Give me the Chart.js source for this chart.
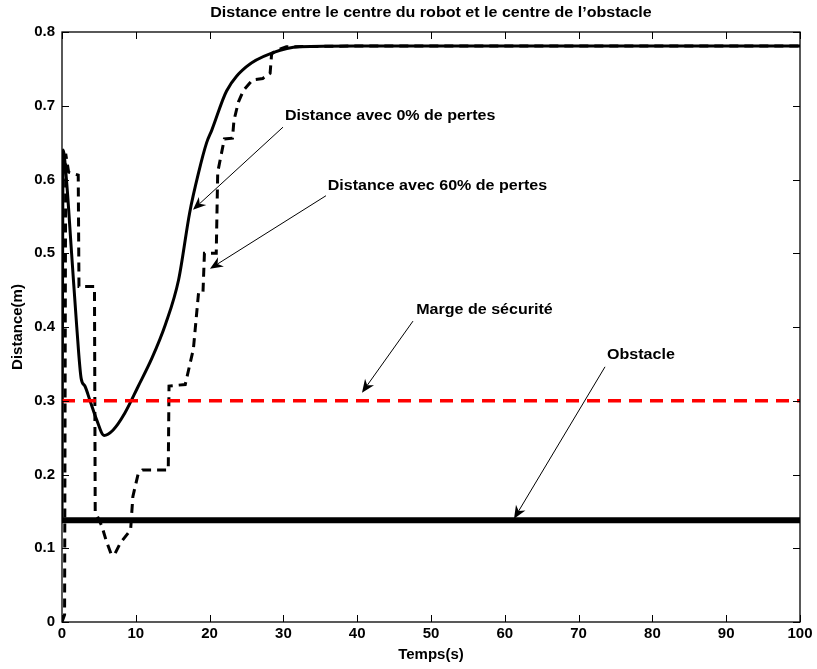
<!DOCTYPE html>
<html>
<head>
<meta charset="utf-8">
<script src="https://cdn.jsdelivr.net/npm/chart.js@4/dist/chart.umd.min.js"></script>
<style>
  html, body { margin: 0; padding: 0; background: #fff; }
  #wrap { width: 817px; height: 669px; position: relative; }
</style>
</head>
<body>
<div id="wrap"><canvas id="c" width="817" height="669"></canvas></div>
<script>
// ---- Data ----
const titleText = "Distance entre le centre du robot et le centre de l\u2019obstacle";
const xTitle = "Temps(s)";
const yTitle = "Distance(m)";

// Distance with 0% losses (solid)
const t0 = [0, 0.15, 0.6, 1.3, 2.0, 2.6, 3.1, 3.8, 4.7, 5.7, 6.9, 8.5, 10.3, 12.2, 14.0, 15.8, 17.3, 18.5, 19.6, 20.3, 22.3, 25.0, 28.6, 32.2, 40, 60, 80, 100];
const d0 = [0.14, 0.64, 0.60, 0.50, 0.40, 0.33, 0.32, 0.30, 0.274, 0.253, 0.26, 0.283, 0.319, 0.358, 0.403, 0.464, 0.555, 0.609, 0.650, 0.667, 0.72, 0.753, 0.772, 0.780, 0.781, 0.781, 0.781, 0.781];

// Distance with 60% losses (dashed)
const t60 = [0, 0.35, 0.5, 0.9, 2.2, 2.3, 4.4, 4.5, 5.4, 6.0, 6.7, 7.2, 7.9, 9.3, 9.6, 10.3, 10.9, 14.4, 14.5, 16.7, 17.8, 18.5, 19.1, 19.3, 20.9, 21.1, 22.0, 23.1, 23.3, 23.9, 24.6, 25.8, 27.2, 28.2, 28.4, 29.0, 30.4, 40, 60, 80, 100];
const d60 = [0.0, 0.01, 0.635, 0.61, 0.606, 0.455, 0.455, 0.15, 0.13, 0.11, 0.091, 0.093, 0.107, 0.125, 0.17, 0.20, 0.206, 0.206, 0.32, 0.322, 0.37, 0.446, 0.446, 0.50, 0.50, 0.61, 0.655, 0.656, 0.68, 0.705, 0.721, 0.735, 0.737, 0.744, 0.77, 0.775, 0.78, 0.781, 0.781, 0.781, 0.781];

// Safety margin and obstacle levels
const safetyX = [0, 100];
const safetyY = [0.3, 0.3];
const obstacleX = [0, 100];
const obstacleY = [0.138, 0.138];

// Axis ticks
const xTicks = [0, 10, 20, 30, 40, 50, 60, 70, 80, 90, 100];
const yTicks = [0, 0.1, 0.2, 0.3, 0.4, 0.5, 0.6, 0.7, 0.8];

// Annotations: label text, label anchor (data), arrow tail (data), arrow tip (data)
const annText = ["Distance avec 0% de pertes", "Distance avec 60% de pertes", "Marge de s\u00e9curit\u00e9", "Obstacle"];
const annLabelX = [30.2, 36.0, 48.0, 73.85];
const annLabelY = [0.686, 0.591, 0.423, 0.362];
const annTailX = [29.95, 35.77, 47.56, 73.58];
const annTailY = [0.671, 0.578, 0.408, 0.346];
const annTipX = [17.75, 20.05, 40.65, 61.25];
const annTipY = [0.559, 0.479, 0.311, 0.140];

// ---- Build ----
const pts = (xs, ys) => xs.map((x, i) => ({x: x, y: ys[i]}));
const FONT = "'Liberation Sans', Arial, Helvetica, sans-serif";
const STRETCH = 1.07;

function wideText(ctx, text, px, py, align) {
  ctx.save();
  ctx.translate(px, py);
  ctx.scale(STRETCH, 1);
  ctx.textAlign = align;
  ctx.fillText(text, 0, 0);
  ctx.restore();
}

const framePlugin = {
  id: 'frameTicks',
  afterDatasetsDraw(chart) {
    const {ctx, chartArea: a, scales: {x, y}} = chart;
    ctx.save();
    // ticks inward on all four sides
    ctx.strokeStyle = '#000';
    ctx.lineWidth = 1;
    const tl = 7;
    ctx.beginPath();
    xTicks.forEach(v => {
      const px = Math.round(x.getPixelForValue(v)) + 0.5;
      ctx.moveTo(px, a.bottom); ctx.lineTo(px, a.bottom - tl);
      ctx.moveTo(px, a.top); ctx.lineTo(px, a.top + tl);
    });
    yTicks.forEach(v => {
      const py = Math.round(y.getPixelForValue(v)) + 0.5;
      ctx.moveTo(a.left, py); ctx.lineTo(a.left + tl, py);
      ctx.moveTo(a.right, py); ctx.lineTo(a.right - tl, py);
    });
    ctx.stroke();
    // frame
    ctx.lineWidth = 1.3;
    ctx.strokeRect(a.left, a.top, a.right - a.left, a.bottom - a.top);

    ctx.fillStyle = '#000';
    ctx.font = 'bold 15px ' + FONT;
    ctx.textBaseline = 'middle';
    // title centred over the plot area
    wideText(ctx, titleText, (a.left + a.right) / 2, 13, 'center');

    // annotations
    for (let i = 0; i < annText.length; i++) {
      wideText(ctx, annText[i], x.getPixelForValue(annLabelX[i]), y.getPixelForValue(annLabelY[i]), 'left');
      const x1 = x.getPixelForValue(annTailX[i]), y1 = y.getPixelForValue(annTailY[i]);
      const x2 = x.getPixelForValue(annTipX[i]), y2 = y.getPixelForValue(annTipY[i]);
      const ang = Math.atan2(y2 - y1, x2 - x1);
      const L = 13, W = 5.5, notch = 9;
      ctx.lineWidth = 1;
      ctx.beginPath();
      ctx.moveTo(x1, y1);
      ctx.lineTo(x2 - Math.cos(ang) * notch, y2 - Math.sin(ang) * notch);
      ctx.stroke();
      const bx = x2 - Math.cos(ang) * L, by = y2 - Math.sin(ang) * L;
      const nx = -Math.sin(ang), ny = Math.cos(ang);
      ctx.beginPath();
      ctx.moveTo(x2, y2);
      ctx.lineTo(bx + nx * W, by + ny * W);
      ctx.lineTo(x2 - Math.cos(ang) * notch, y2 - Math.sin(ang) * notch);
      ctx.lineTo(bx - nx * W, by - ny * W);
      ctx.closePath();
      ctx.fill();
    }
    ctx.restore();
  }
};

new Chart(document.getElementById('c'), {
  type: 'line',
  data: {
    datasets: [
      { label: 'Obstacle', data: pts(obstacleX, obstacleY), borderColor: '#000', borderWidth: 6, pointRadius: 0, borderCapStyle: 'butt' },
      { label: 'Marge de sécurité', data: pts(safetyX, safetyY), borderColor: '#ff0000', borderWidth: 3.5, borderDash: [13, 8], pointRadius: 0, borderCapStyle: 'butt' },
      { label: 'Distance avec 60% de pertes', data: pts(t60, d60), borderColor: '#000', borderWidth: 3, borderDash: [9, 6], pointRadius: 0, tension: 0, borderCapStyle: 'butt' },
      { label: 'Distance avec 0% de pertes', data: pts(t0, d0), borderColor: '#000', borderWidth: 3, pointRadius: 0, cubicInterpolationMode: 'monotone' }
    ]
  },
  options: {
    responsive: false,
    animation: false,
    devicePixelRatio: 1,
    layout: { padding: { left: 0, right: 17, top: 32, bottom: 0 } },
    plugins: {
      legend: { display: false },
      tooltip: { enabled: false },
      title: { display: false }
    },
    scales: {
      x: {
        type: 'linear',
        min: 0, max: 100,
        afterFit: s => { s.height = 47; },
        afterBuildTicks: s => { s.ticks = xTicks.map(v => ({value: v})); },
        grid: { display: false, drawTicks: false },
        border: { display: false },
        ticks: { color: '#000', padding: 3, font: { family: FONT, size: 15, weight: 'bold' }, maxRotation: 0, autoSkip: false },
        title: { display: true, text: xTitle, color: '#000', font: { family: FONT, size: 15, weight: 'bold' }, padding: { top: 0, bottom: 5 } }
      },
      y: {
        type: 'linear',
        min: 0, max: 0.8,
        afterFit: s => { s.width = 62; },
        afterBuildTicks: s => { s.ticks = yTicks.map(v => ({value: v})); },
        grid: { display: false, drawTicks: false },
        border: { display: false },
        ticks: { color: '#000', padding: 7, font: { family: FONT, size: 15, weight: 'bold' }, autoSkip: false, callback: v => String(+Number(v).toFixed(1)) },
        title: { display: true, text: yTitle, color: '#000', font: { family: FONT, size: 15, weight: 'bold' }, padding: { top: 9, bottom: 0 } }
      }
    }
  },
  plugins: [framePlugin]
});
</script>
</body>
</html>
